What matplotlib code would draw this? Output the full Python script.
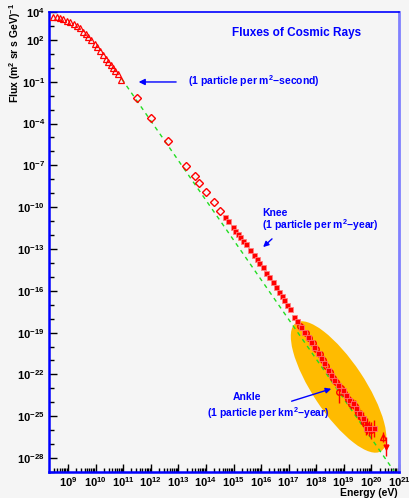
import matplotlib
matplotlib.use("Agg")
import matplotlib.pyplot as plt
from matplotlib.patches import Ellipse
from matplotlib.transforms import ScaledTranslation
from matplotlib.ticker import FixedLocator, LogLocator, NullFormatter
import numpy as np

plt.rcParams['font.family'] = ['Liberation Sans', 'DejaVu Sans']
plt.rcParams['font.weight'] = 'bold'
plt.rcParams['mathtext.fontset'] = 'custom'
plt.rcParams['mathtext.rm'] = 'Liberation Sans:bold'
plt.rcParams['mathtext.bf'] = 'Liberation Sans:bold'
plt.rcParams['mathtext.default'] = 'bf'

# log10(E / eV) and log10(flux)
tri_loge = [8.47, 8.59, 8.71, 8.82, 8.95, 9.07, 9.21, 9.34, 9.43, 9.55, 9.64, 9.73,
            9.83, 9.96, 10.06, 10.15, 10.27, 10.37, 10.46, 10.55, 10.64, 10.71, 10.80, 10.92]
tri_logf = [3.62, 3.62, 3.59, 3.50, 3.38, 3.26, 3.12, 3.00, 2.83, 2.59, 2.42, 2.23,
            1.99, 1.68, 1.47, 1.20, 0.92, 0.63, 0.44, 0.20, -0.04, -0.23, -0.45, -0.85]

dia_loge = [11.49, 12.01, 12.61, 13.29, 13.60, 13.74, 14.00, 14.29, 14.51]
dia_logf = [-2.19, -3.60, -5.25, -7.07, -7.79, -8.24, -8.91, -9.61, -10.28]

sq_loge = [14.69, 14.81, 14.97, 15.05, 15.15, 15.24, 15.35, 15.46, 15.61, 15.73, 15.84,
           15.93, 16.07, 16.19, 16.30, 16.43, 16.55, 16.65, 16.75, 16.84, 16.94, 17.04, 17.20]
sq_logf = [-10.73, -10.97, -11.45, -11.69, -11.93, -12.12, -12.41, -12.66, -13.07, -13.41, -13.70,
           -13.98, -14.27, -14.70, -15.03, -15.37, -15.71, -16.06, -16.37, -16.66, -17.02, -17.33, -17.86]

uhe_loge = [17.30, 17.45, 17.57, 17.69, 17.81, 17.93, 18.05, 18.17, 18.29, 18.41, 18.53, 18.65,
            18.78, 18.96, 19.08, 19.20, 19.32, 19.44, 19.56, 19.68, 19.80, 19.92, 20.10]
uhe_logf = [-18.20, -18.57, -18.93, -19.29, -19.65, -20.01, -20.48, -20.84, -21.20, -21.68, -22.04, -22.40,
            -22.76, -23.12, -23.48, -23.83, -24.07, -24.43, -24.79, -25.15, -25.86, -25.86, -25.86]
uhe_err = [0.05, 0.05, 0.06, 0.06, 0.07, 0.08, 0.08, 0.10, 0.10, 0.12, 0.15, 0.18,
           0.20, 0.25, 0.25, 0.30, 0.30, 0.35, 0.40, 0.45, 0.50, 0.55, 0.60]

oth_loge = [17.40, 17.62, 17.75, 17.88, 18.00, 18.12, 18.25, 18.37, 18.50, 18.62, 18.72, 18.84,
            18.90, 19.02, 19.15, 19.27, 19.40, 19.52, 19.62, 19.75, 19.85, 20.00]
oth_logf = [-18.50, -19.00, -19.40, -19.75, -20.20, -20.55, -21.00, -21.40, -21.80, -22.25, -22.55, -23.24,
            -23.00, -23.35, -23.75, -24.10, -24.30, -24.75, -25.05, -25.55, -25.70, -26.00]
oth_err = [0.08, 0.08, 0.10, 0.10, 0.12, 0.12, 0.15, 0.15, 0.20, 0.20, 0.25, 0.80,
           0.30, 0.30, 0.35, 0.40, 0.45, 0.45, 0.50, 0.55, 0.60, 0.60]

top_loge = [20.41, 20.53]
top_logf = [-26.47, -27.18]
top_err = [0.35, 0.70]

# reference power law (green dashed)
line_loge = [10.95, 20.82]
line_index = -2.85
line_norm = -0.81

fig = plt.figure(figsize=(4.1, 4.98), dpi=100, facecolor='#f5f5f5')
ax = fig.add_axes([49 / 410, 26 / 498, 350 / 410, 460 / 498])
ax.set_facecolor('#f5f5f5')
ax.set_xscale('log')
ax.set_yscale('log')
ax.set_xlim(10 ** 8.31, 10 ** 21.0)
ax.set_ylim(1e-29, 1e4)

red = '#ff0000'

# ellipse around the ankle region
ell_tr = fig.dpi_scale_trans + ScaledTranslation(10 ** 18.81, 10 ** -22.9, ax.transData)
ax.add_patch(Ellipse((0, 0), 1.54, 0.52, angle=-56.4, transform=ell_tr,
                     facecolor='#ffbb00', edgecolor='none', zorder=1))

lx = np.array(line_loge)
ax.plot(10 ** lx, 10 ** (line_norm + line_index * (lx - line_loge[0])),
        color='#22dd22', lw=1.0, dashes=(3, 3), zorder=2)

ax.plot(10 ** np.array(tri_loge), 10 ** np.array(tri_logf), ls='none', marker='^',
        mfc='none', mec=red, ms=5, mew=0.9, zorder=3)
ax.plot(10 ** np.array(dia_loge), 10 ** np.array(dia_logf), ls='none', marker='D',
        mfc='none', mec=red, ms=3.6, mew=1.0, zorder=3)
ax.plot(10 ** np.array(sq_loge), 10 ** np.array(sq_logf), ls='none', marker='s',
        mfc=red, mec='#ff8080', ms=3.6, mew=0.6, zorder=3)


def err_plot(loge, logf, err, **kw):
    loge = np.array(loge)
    logf = np.array(logf)
    err = np.array(err)
    y = 10 ** logf
    yerr = [y - 10 ** (logf - err), 10 ** (logf + err) - y]
    ax.errorbar(10 ** loge, y, yerr=yerr, ls='none', ecolor=red, elinewidth=1.0,
                capsize=0, zorder=3, **kw)


err_plot(oth_loge, oth_logf, oth_err, marker='o', mfc='none', mec=red, ms=4, mew=1.0)
err_plot(uhe_loge, uhe_logf, uhe_err, marker='s', mfc=red, mec='#ff7070', ms=3.6, mew=0.6)
err_plot(top_loge[:1], top_logf[:1], top_err[:1], marker='^', mfc='none', mec=red, ms=5, mew=1.0)
err_plot(top_loge[1:], top_logf[1:], top_err[1:], marker='v', mfc=red, mec=red, ms=3.5, mew=1.0)

# ticks
xmaj = [10.0 ** k for k in range(9, 22)]
ax.xaxis.set_major_locator(FixedLocator(xmaj))
ax.xaxis.set_minor_locator(LogLocator(base=10, subs=np.arange(2, 10), numticks=30))
ax.xaxis.set_minor_formatter(NullFormatter())
ax.set_xticklabels([r'$10^{%d}$' % k for k in range(9, 22)])

ymaj_exp = [4, 2] + list(range(-1, -29, -3))
ax.yaxis.set_major_locator(FixedLocator([10.0 ** k for k in ymaj_exp]))
ax.yaxis.set_minor_locator(FixedLocator([10.0 ** k for k in range(-29, 5)]))
ax.yaxis.set_minor_formatter(NullFormatter())
ax.set_yticklabels([r'$10^{%d}$' % k for k in ymaj_exp])

ax.tick_params(which='both', direction='in', colors='black', labelsize=8, pad=3)
ax.tick_params(axis='x', pad=2)
ax.tick_params(which='major', length=6, width=1)
ax.tick_params(which='minor', length=3.5, width=1)
ax.tick_params(axis='x', which='minor', length=3)

for side, c, w in [('left', '#0000ff', 1.8), ('bottom', '#0000ff', 1.8),
                   ('top', '#0000ff', 1.2), ('right', '#8080ff', 2.0)]:
    ax.spines[side].set_color(c)
    ax.spines[side].set_linewidth(w)

blue = '#0000ff'
ax.text(0.706, 0.954, 'Fluxes of Cosmic Rays', transform=ax.transAxes, color=blue,
        fontsize=8.5, ha='center', va='center')

ax.text(10 ** 13.35, 10 ** -0.95, r'(1 particle per m$^2$$-$second)', color=blue,
        fontsize=7.5, ha='left', va='center')
ax.annotate('', xy=(10 ** 11.46, 10 ** -1.02), xytext=(10 ** 13.02, 10 ** -1.02),
            arrowprops=dict(arrowstyle='-|>', color=blue, lw=1.0, mutation_scale=9))

ax.text(10 ** 16.03, 10 ** -10.40, 'Knee', color=blue, fontsize=7.5, ha='left', va='center')
ax.text(10 ** 16.05, 10 ** -11.30, r'(1 particle per m$^2$$-$year)', color=blue,
        fontsize=7.5, ha='left', va='center')
ax.annotate('', xy=(10 ** 16.0, 10 ** -13.0), xytext=(10 ** 16.47, 10 ** -12.14),
            arrowprops=dict(arrowstyle='-|>', color=blue, lw=1.0, mutation_scale=8))

ax.text(10 ** 15.49, 10 ** -23.62, 'Ankle', color=blue, fontsize=7.5, ha='center', va='center')
ax.text(10 ** 14.04, 10 ** -24.80, r'(1 particle per km$^2$$-$year)', color=blue,
        fontsize=7.5, ha='left', va='center')
ax.annotate('', xy=(10 ** 18.64, 10 ** -22.97), xytext=(10 ** 17.01, 10 ** -23.98),
            arrowprops=dict(arrowstyle='-|>', color=blue, lw=1.0, mutation_scale=8))

fig.text(15 / 410, 1 - 3 / 498, r'Flux (m$^2$ sr s GeV)$^{-1}$', rotation=90,
         ha='center', va='top', fontsize=7.5)
fig.text(398 / 410, 1 - 493 / 498, 'Energy (eV)', ha='right', va='center', fontsize=7.5)

fig.savefig('out.png', dpi=100, facecolor=fig.get_facecolor())
